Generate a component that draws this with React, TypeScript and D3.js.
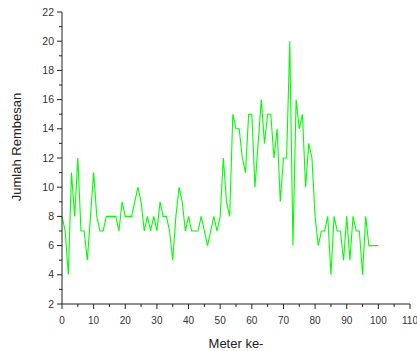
import React from 'react';
import * as d3 from 'd3';

// Meter ke- (0..100) dan jumlah rembesan
const meters = d3.range(0, 101);
const rembesan = [
  8, 7, 4, 11, 8, 12, 7, 7, 5, 8,
  11, 8, 7, 7, 8, 8, 8, 8, 7, 9,
  8, 8, 8, 9, 10, 9, 7, 8, 7, 8,
  7, 9, 8, 8, 7, 5, 8, 10, 9, 7,
  8, 7, 7, 7, 8, 7, 6, 7, 8, 7,
  8, 12, 9, 8, 15, 14, 14, 12, 11, 15,
  15, 10, 13, 16, 13, 15, 15, 12, 14, 9,
  12, 12, 20, 6, 16, 14, 15, 10, 13, 12,
  8, 6, 7, 7, 8, 4, 8, 7, 7, 5,
  8, 5, 8, 7, 7, 4, 8, 6, 6, 6,
  6,
];
const xTicks = d3.range(0, 111, 10);
const xMinor = d3.range(5, 110, 10);
const yTicks = d3.range(2, 23, 2);
const yMinor = d3.range(3, 22, 2);

const W = 417;
const H = 351;
const axisColor = '#222';
const lineColor = '#00ff00';
const font = 'Arial, "Liberation Sans", sans-serif';

export default function App() {
  const x = d3.scaleLinear().domain([0, 110]).range([62, 410]);
  const y = d3.scaleLinear().domain([2, 22]).range([304, 12]);

  const line = d3.line<number>()
    .x((d, i) => x(meters[i]))
    .y(d => y(d));

  return (
    <svg width={W} height={H} style={{ position: 'absolute', left: 0, top: 0, background: '#fff' }}>
      {/* garis data */}
      <path d={line(rembesan) || ''} fill="none" stroke={lineColor} strokeWidth={1.1} />

      {/* sumbu y */}
      <g>
        <line x1={x(0)} x2={x(0)} y1={y(22)} y2={y(2)} stroke={axisColor} />
        {yTicks.map(t => (
          <g key={t}>
            <line x1={x(0) - 5} x2={x(0)} y1={y(t)} y2={y(t)} stroke={axisColor} />
            <text x={x(0) - 8} y={y(t)} dy="0.35em" textAnchor="end" fontSize={10.5}
              fontFamily={font} fill="#333">{t}</text>
          </g>
        ))}
        {yMinor.map(t => (
          <line key={t} x1={x(0) - 3} x2={x(0)} y1={y(t)} y2={y(t)} stroke={axisColor} />
        ))}
      </g>

      {/* sumbu x */}
      <g>
        <line x1={x(0)} x2={x(110)} y1={y(2)} y2={y(2)} stroke={axisColor} />
        {xTicks.map(t => (
          <g key={t}>
            <line x1={x(t)} x2={x(t)} y1={y(2)} y2={y(2) + 5} stroke={axisColor} />
            <text x={x(t)} y={y(2) + 16} dy="0.35em" textAnchor="middle" fontSize={10}
              fontFamily={font} fill="#333">{t}</text>
          </g>
        ))}
        {xMinor.map(t => (
          <line key={t} x1={x(t)} x2={x(t)} y1={y(2)} y2={y(2) + 3} stroke={axisColor} />
        ))}
      </g>

      {/* judul sumbu */}
      <text x={236} y={343} dy="0.35em" textAnchor="middle" fontSize={13}
        fontFamily={font} fill="#222">Meter ke-</text>
      <text transform={`translate(16,147) rotate(-90)`} dy="0.35em" textAnchor="middle"
        fontSize={13} fontFamily={font} fill="#222">Jumlah Rembesan</text>
    </svg>
  );
}
